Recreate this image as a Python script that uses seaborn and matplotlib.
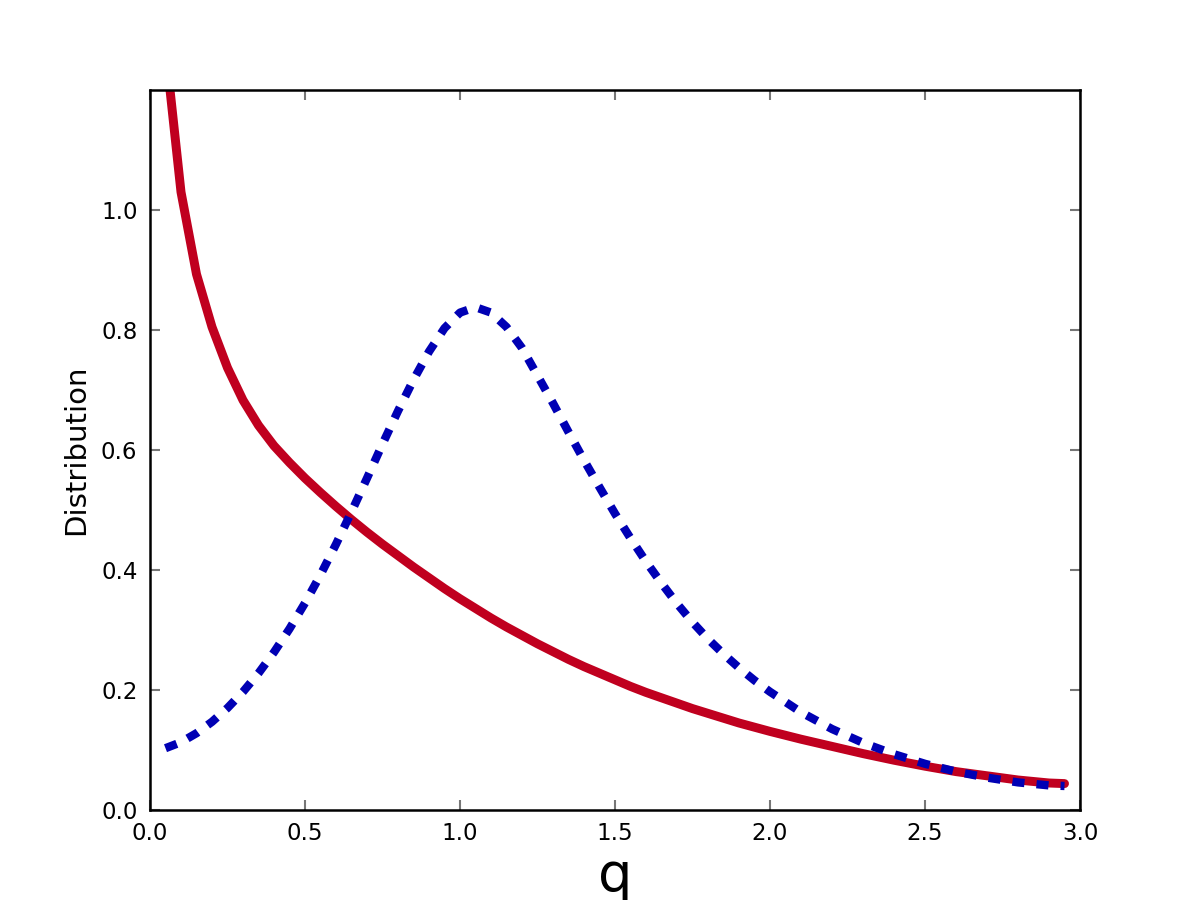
"""
Distribution en fonction de q : deux courbes (pleine rouge, pointillée bleue).
"""

import pandas as pd
import numpy as np
import matplotlib
matplotlib.use('Agg')
import matplotlib.pyplot as plt
import seaborn as sns


# Grille en q
q = [0.05, 0.10, 0.15, 0.20, 0.25, 0.30, 0.35, 0.40, 0.45, 0.50,
     0.55, 0.60, 0.65, 0.70, 0.75, 0.80, 0.85, 0.90, 0.95, 1.00,
     1.05, 1.10, 1.15, 1.20, 1.25, 1.30, 1.35, 1.40, 1.45, 1.50,
     1.55, 1.60, 1.65, 1.70, 1.75, 1.80, 1.85, 1.90, 1.95, 2.00,
     2.10, 2.20, 2.30, 2.40, 2.50, 2.60, 2.70, 2.80, 2.90, 2.95]

# Courbe pleine (rouge), décroissante
dist_red = [1.27, 1.03, 0.893, 0.805, 0.737, 0.683, 0.641, 0.607, 0.579, 0.553,
            0.529, 0.506, 0.484, 0.463, 0.443, 0.424, 0.405, 0.387, 0.369, 0.352,
            0.336, 0.320, 0.305, 0.291, 0.277, 0.264, 0.251, 0.239, 0.228, 0.217,
            0.206, 0.196, 0.187, 0.178, 0.169, 0.161, 0.153, 0.145, 0.138, 0.131,
            0.118, 0.106, 0.094, 0.083, 0.073, 0.064, 0.057, 0.050, 0.045, 0.044]

# Courbe pointillée (bleue), en cloche
dist_blue = [0.103, 0.113, 0.128, 0.147, 0.170, 0.197, 0.228, 0.263, 0.302, 0.345,
             0.392, 0.443, 0.497, 0.553, 0.610, 0.665, 0.717, 0.764, 0.803, 0.829,
             0.838, 0.829, 0.805, 0.770, 0.724, 0.678, 0.630, 0.583, 0.538, 0.494,
             0.453, 0.414, 0.378, 0.344, 0.313, 0.285, 0.260, 0.237, 0.216, 0.197,
             0.163, 0.135, 0.112, 0.093, 0.077, 0.064, 0.054, 0.046, 0.041, 0.040]

RED = '#c0001f'
BLUE = '#0000b4'


def plot_distribution(save_path='out.png'):
    """Trace les deux distributions."""
    sns.set_style('ticks', {'xtick.direction': 'in', 'ytick.direction': 'in',
                            'axes.edgecolor': 'black'})
    plt.rcParams['font.family'] = ['DejaVu Sans']

    df = pd.DataFrame({'q': q, 'red': dist_red, 'blue': dist_blue})

    fig, ax = plt.subplots(figsize=(8, 6), dpi=150)
    fig.subplots_adjust(left=0.125, right=0.9, bottom=0.1, top=0.9)

    sns.lineplot(data=df, x='q', y='red', ax=ax, color=RED, linewidth=4.3)
    sns.lineplot(data=df, x='q', y='blue', ax=ax, color=BLUE, linewidth=4.0,
                 dashes=False)
    # tirets longs avec des espaces presque égaux
    blue_line = ax.lines[-1]
    blue_line.set_linestyle((0, (1.45, 1.45)))
    blue_line.set_dash_capstyle('butt')

    ax.set_xlim(0, 3.0)
    ax.set_ylim(0, 1.2)
    xt = np.arange(0, 3.01, 0.5)
    yt = np.arange(0, 1.01, 0.2)
    ax.set_xticks(xt)
    ax.set_yticks(yt)
    ax.set_xticklabels([f'{t:.1f}' for t in xt])
    ax.set_yticklabels([f'{t:.1f}' for t in yt])

    ax.tick_params(axis='both', which='major', direction='in', length=5,
                   width=1, color='#777777', labelcolor='black', labelsize=11,
                   pad=6, top=True, right=True)
    for spine in ax.spines.values():
        spine.set_visible(True)
        spine.set_linewidth(1.2)
        spine.set_color('black')

    ax.set_xlabel('q', fontsize=26, labelpad=2, color='black')
    ax.set_ylabel('Distribution', fontsize=14, labelpad=5, color='black')

    plt.savefig(save_path, dpi=150)
    print(f"✅ Figure sauvegardée: {save_path}")


if __name__ == '__main__':
    plot_distribution()
